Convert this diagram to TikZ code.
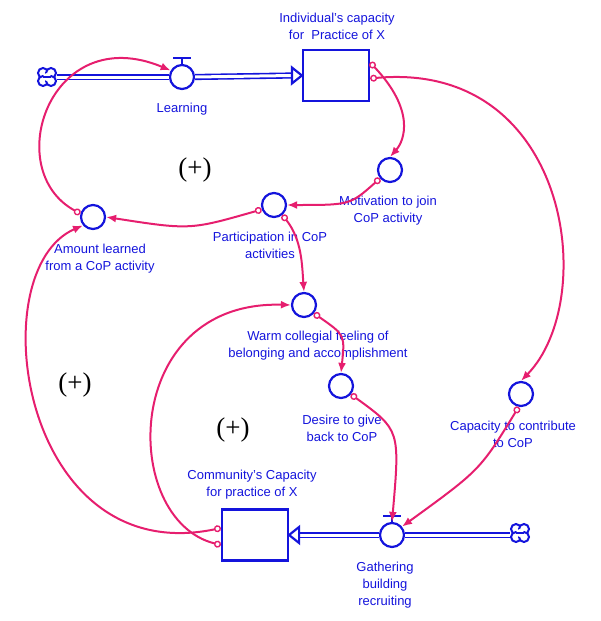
\documentclass[tikz,border=0pt]{standalone}
\usepackage{fontspec}
\setmainfont{Liberation Sans}
\newfontfamily\plusfont{Liberation Serif}
\usetikzlibrary{arrows.meta}
\definecolor{lb}{RGB}{20,20,220}
\definecolor{lm}{RGB}{230,30,110}
\begin{document}
\begin{tikzpicture}[x=1pt,y=-1pt,
  aux/.style={circle,draw=lb,line width=2.2pt,minimum size=24pt,inner sep=0pt},
  stock/.style={rectangle,draw=lb,line width=2.2pt,minimum width=66pt,minimum height=51pt},
  lbl/.style={text=lb,font=\fontsize{13}{17}\selectfont,align=center},
  plus/.style={font=\plusfont\fontsize{27}{27}\selectfont},
  link/.style={draw=lm,line width=2pt,{Circle[open,length=7pt,line width=1.4pt]}-{Latex[length=10pt,width=8pt]}},
  src/.style={circle,minimum size=20pt,inner sep=0pt},
  pipe/.style={draw=lb,line width=1.6pt,double=white,double distance=3pt}]
\useasboundingbox (0,0) rectangle (600,621);
% nodes
\node[src] (c1) at (47,77) {};
\node[aux] (learn) at (182,77) {};
\node[stock] (s1) at (336,75.5) {};
\node[aux] (mot) at (390,170) {};
\node[aux] (part) at (274,205) {};
\node[aux] (amt) at (93,217) {};
\node[aux] (warm) at (304,305) {};
\node[aux] (des) at (341,386) {};
\node[aux] (cap) at (521,394) {};
\node[stock] (s2) at (255,535) {};
\node[aux,fill=white] (gath) at (392,535) {};
\node[src] (c2) at (520,533) {};
% clouds
\foreach \c in {c1,c2}{
  \foreach \dx/\dy in {-4/-4,4/-4,-4/4,4/4}
    \draw[lb,line width=2pt,fill=white] ([xshift=\dx pt,yshift=-\dy pt]\c.center) circle (5);
  \fill[white] (\c.center) circle (4);
  \draw[lb,line width=1.4pt] ([xshift=-4pt]\c.center) -- ([xshift=4pt]\c.center);
}
% valve tops
\draw[lb,line width=2.2pt] (learn.north) -- ++(0,-6) coordinate (lt);
\draw[lb,line width=2.2pt] ([xshift=-9pt]lt) -- ([xshift=9pt]lt);
\draw[lb,line width=2.2pt] (gath.north) -- ++(0,-6) coordinate (gt);
\draw[lb,line width=2.2pt] ([xshift=-9pt]gt) -- ([xshift=9pt]gt);
% pipes
\draw[pipe] (c1.east) -- (learn.west);
\draw[pipe] (learn.east) -- ([xshift=-10pt]s1.west);
\draw[lb,line width=2.2pt,fill=white] (s1.west) -- ++(-10,-8) -- ++(0,16) -- cycle;
\draw[pipe] (c2.west |- gath.east) -- (gath.east);
\draw[pipe] (gath.west) -- ([xshift=10pt]s2.east);
\draw[lb,line width=2.2pt,fill=white] (s2.east) -- ++(10,-8) -- ++(0,16) -- cycle;
% labels
\node[lbl] (llearn) at (182,109) {Learning};
\node[lbl] (ls1) at (337,26) {Individual's capacity\\ for\ \ Practice of X};
\node[lbl] (lmot) at (388,211) {Motivation to join\\CoP activity};
\node[lbl] (lpart) at (270,245) {Participation in CoP\\activities};
\node[lbl] (lamt) at (100,259) {Amount learned\\from a CoP activity};
\node[lbl] (lwarm) at (318,346) {Warm collegial feeling of\\belonging and accomplishment};
\node[lbl] (ldes) at (342,428) {Desire to give\\back to CoP};
\node[lbl] (lcap) at (513,434) {Capacity to contribute\\to CoP};
\node[lbl] (ls2) at (252,485) {Community's Capacity\\for practice of X};
\node[lbl] (lgath) at (385,585) {Gathering\\building\\recruiting};
\node[plus] (p1) at (195,170) {(+)};
\node[plus] (p2) at (75,385) {(+)};
\node[plus] (p3) at (233,430) {(+)};
% links
\draw[link] (amt.165) .. controls (0,170) and (50,20) .. (learn.150);
\draw[link] ([yshift=-3pt]s1.east) .. controls (570,60) and (600,300) .. (cap.north);
\draw[link] ([yshift=13pt]s1.east) .. controls (415,110) and (405,140) .. (mot.north);
\draw[link] (mot.220) .. controls (350,205) .. (part.east);
\draw[link] (part.200) .. controls (190,230) .. (amt.east);
\draw[link] (part.310) .. controls (302,240) and (302,265) .. (warm.north);
\draw[link] (warm.320) .. controls (345,335) .. (des.north);
\draw[link] (des.320) .. controls (400,430) .. (gath.north);
\draw[link] (cap.260) .. controls (480,470) .. (gath.40);
\draw[link] ([yshift=-10pt]s2.west) .. controls (120,520) and (120,300) .. (warm.west);
\draw[link] ([yshift=7pt]s2.west) .. controls (20,570) and (-20,270) .. (amt.220);
\end{tikzpicture}
\end{document}
